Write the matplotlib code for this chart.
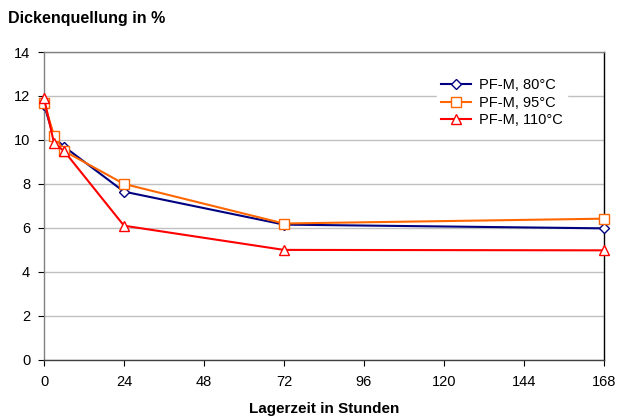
import matplotlib
matplotlib.use("Agg")
import matplotlib.pyplot as plt

plt.rcParams['font.family'] = ['Liberation Sans', 'DejaVu Sans']

hours_80 = [0, 3, 6, 24, 72, 168]
vals_80 = [11.6, 10.1, 9.7, 7.65, 6.15, 5.98]
hours_95 = [0, 3, 6, 24, 72, 168]
vals_95 = [11.7, 10.2, 9.5, 8.0, 6.2, 6.42]
hours_110 = [0, 3, 6, 24, 72, 168]
vals_110 = [11.9, 9.85, 9.5, 6.1, 5.0, 4.98]

labels = ['PF-M, 80°C', 'PF-M, 95°C', 'PF-M, 110°C']
xticks = [0, 24, 48, 72, 96, 120, 144, 168]
yticks = [0, 2, 4, 6, 8, 10, 12, 14]

fig = plt.figure(figsize=(6.29, 4.16), dpi=100)
ax = fig.add_axes([0.070, 0.135, 0.890, 0.740])

ax.plot(hours_80, vals_80, color='#000080', lw=1.5, marker='D', ms=5,
        mfc='white', mec='#000080', mew=1, label=labels[0], zorder=3, clip_on=False)
ax.plot(hours_95, vals_95, color='#FF6600', lw=1.5, marker='s', ms=7,
        mfc='white', mec='#FF6600', mew=1, label=labels[1], zorder=3, clip_on=False)
ax.plot(hours_110, vals_110, color='#FF0000', lw=1.5, marker='^', ms=7,
        mfc='white', mec='#FF0000', mew=1, label=labels[2], zorder=4, clip_on=False)

ax.set_xlim(0, 168)
ax.set_ylim(0, 14)
ax.set_xticks(xticks)
ax.set_yticks(yticks)
ax.tick_params(direction='out', length=4, labelsize=10.5, colors='black', width=0.8)
ax.tick_params(axis='x', pad=7)
ax.tick_params(axis='y', pad=6)
ax.yaxis.grid(True, color='#c0c0c0', lw=1)
ax.set_axisbelow(True)
for s in ax.spines.values():
    s.set_color('#808080')
    s.set_linewidth(1)
ax.spines['right'].set_color('black')
ax.spines['bottom'].set_color('#404040')

ax.set_xlabel('Lagerzeit in Stunden', fontsize=11, fontweight='bold', labelpad=9)
fig.text(0.013, 0.955, 'Dickenquellung in %', fontsize=11.5, fontweight='bold',
         ha='left', va='center')

leg = ax.legend(loc='upper right', bbox_to_anchor=(0.948, 0.953), frameon=True,
                fontsize=10.5, handlelength=2.0, handletextpad=0.6, borderpad=0.3,
                labelspacing=0.25, fancybox=False)
leg.get_frame().set_edgecolor('white')
leg.get_frame().set_facecolor('white')
leg.get_frame().set_alpha(1)

fig.savefig('out.png', dpi=100)
